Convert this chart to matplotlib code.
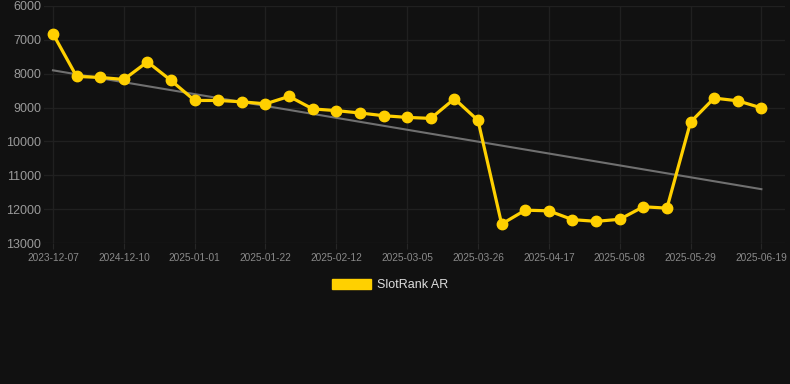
import numpy as np
import matplotlib.pyplot as plt

plt.rcParams["font.family"] = ["Liberation Sans", "DejaVu Sans"]

# Dates (one per weekly point) and rank values
dates = ["2023-12-07", "2024-11-26", "2024-12-03", "2024-12-10", "2024-12-17",
         "2024-12-24", "2025-01-01", "2025-01-08", "2025-01-15", "2025-01-22",
         "2025-01-29", "2025-02-05", "2025-02-12", "2025-02-19", "2025-02-26",
         "2025-03-05", "2025-03-12", "2025-03-19", "2025-03-26", "2025-04-02",
         "2025-04-09", "2025-04-17", "2025-04-24", "2025-05-01", "2025-05-08",
         "2025-05-15", "2025-05-22", "2025-05-29", "2025-06-05", "2025-06-12",
         "2025-06-19"]
rank = [6820, 8080, 8110, 8170, 7650, 8200, 8790, 8790, 8830, 8890,
        8670, 9040, 9090, 9160, 9240, 9290, 9320, 8740, 9380, 12440,
        12030, 12050, 12310, 12360, 12300, 11930, 11970, 9430, 8720, 8800,
        9010]
trend_ends = [7900, 11410]  # start / end of the grey trend line
y_ticks = [6000, 7000, 8000, 9000, 10000, 11000, 12000, 13000]

bg = "#111111"
fig = plt.figure(figsize=(7.9, 3.84), dpi=100, facecolor=bg)
ax = fig.add_axes([44 / 790, 1 - 243 / 384, (785 - 44) / 790, (243 - 6) / 384])
ax.set_facecolor(bg)

x = np.arange(len(rank))
ax.plot([x[0], x[-1]], trend_ends, color="#707070", linewidth=1.5, zorder=2)
ax.plot(x, rank, color="#FFD000", linewidth=2.3, marker="o", markersize=7.5,
        zorder=3, label="SlotRank AR")

ax.set_ylim(13000, 6000)
ax.set_yticks(y_ticks)
ax.set_yticklabels([str(v) for v in y_ticks])
ax.set_xlim(-0.38, 31.0)
ax.set_xticks(x[::3])
ax.set_xticklabels(dates[::3])

ax.grid(True, color="#202020", linewidth=1)
for s in ax.spines.values():
    s.set_visible(False)
ax.tick_params(axis="y", length=0, pad=2, labelsize=9, labelcolor="#9a9a9a")
ax.tick_params(axis="x", length=4, color="#262626", pad=3, labelsize=7.3,
               labelcolor="#8a8a8a")

leg = fig.legend(handles=[plt.Rectangle((0, 0), 1, 1, color="#FFD000")],
                 labels=["SlotRank AR"], loc="center", bbox_to_anchor=(390 / 790, 1 - 285 / 384),
                 frameon=False, fontsize=9, handlelength=3.1, handleheight=0.9,
                 handletextpad=0.45)
for t in leg.get_texts():
    t.set_color("#dddddd")

fig.savefig("out.png", dpi=100, facecolor=bg)
